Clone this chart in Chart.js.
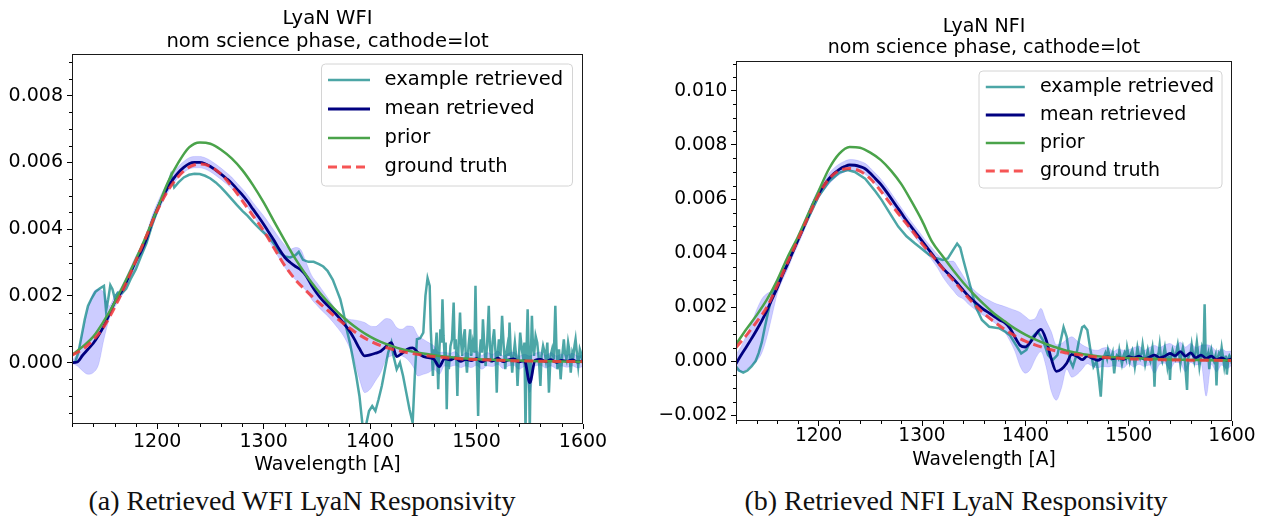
<!DOCTYPE html>
<html>
<head>
<meta charset="utf-8">
<script src="https://cdn.jsdelivr.net/npm/chart.js@4.4.1/dist/chart.umd.min.js"></script>
<style>
  html, body { margin: 0; padding: 0; background: #fff; }
  body { width: 1269px; height: 521px; position: relative; overflow: hidden; }
  .panel { position: absolute; top: 0; height: 480px; }
  #wfiBox { left: 0; width: 640px; }
  #nfiBox { left: 640px; width: 629px; }
  .caption { position: absolute; top: 487px; font-family: 'Liberation Serif', serif; font-size: 28px; line-height: 28px; white-space: nowrap; transform: translateX(-50%); color: #111; }
</style>
</head>
<body>
<div class="panel" id="wfiBox"><canvas id="wfiChart" width="640" height="480"></canvas></div>
<div class="panel" id="nfiBox"><canvas id="nfiChart" width="629" height="480"></canvas></div>
<div class="caption" style="left:302px">(a) Retrieved WFI LyaN Responsivity</div>
<div class="caption" style="left:956px">(b) Retrieved NFI LyaN Responsivity</div>
<script>
// wavelength grids [A]
const wave10 = [1120,1130,1140,1150,1160,1170,1180,1190,1200,1210,
  1220,1230,1240,1250,1260,1270,1280,1290,1300,1310,
  1320,1330,1340,1350,1360,1370,1380,1390,1400,1410,
  1420,1430,1440,1450,1460,1470,1480,1490,1500,1510,
  1520,1530,1540,1550,1560,1570,1580,1590,1600];
const wave5 = [1120,1125,1130,1135,1140,1145,1150,1155,1160,1165,
  1170,1175,1180,1185,1190,1195,1200,1205,1210,1215,
  1220,1225,1230,1235,1240,1245,1250,1255,1260,1265,
  1270,1275,1280,1285,1290,1295,1300,1305,1310,1315,
  1320,1325,1330,1335,1340,1345,1350,1355,1360,1365,
  1370,1375,1380,1385,1390,1395,1400,1405,1410,1415,
  1420,1425,1430,1435,1440,1445,1450,1455,1460,1465,
  1470,1475,1480,1485,1490,1495,1500,1505,1510,1515,
  1520,1525,1530,1535,1540,1545,1550,1555,1560,1565,
  1570,1575,1580,1585,1590,1595,1600];

// ---- WFI ----
const wfiPrior = [0.00023,0.00048,0.00078,0.00125,0.0018,0.00243,0.0031,0.00382,0.0046,0.0054,
  0.006,0.00645,0.0066,0.00656,0.00638,0.00612,0.00577,0.00532,0.0048,0.00422,
  0.00365,0.0031,0.00262,0.0022,0.00183,0.0015,0.00122,0.00098,0.00078,0.00062,
  0.0005,0.0004,0.00033,0.00027,0.00022,0.00018,0.00015,0.00012,0.0001,0.00009,
  0.00008,0.00007,0.00006,0.00005,0.00004,0.00004,0.00003,0.00003,0.00002];
const wfiTruth = [0.00022,0.0004,0.00068,0.00108,0.00165,0.00232,0.00305,0.0038,0.00455,0.00515,
  0.00558,0.00586,0.00595,0.00588,0.00565,0.00528,0.00485,0.0044,0.00395,0.00342,
  0.0029,0.00248,0.00215,0.00185,0.00157,0.0013,0.00105,0.00083,0.00065,0.00051,
  0.00041,0.00033,0.00027,0.00022,0.00018,0.00015,0.00012,0.0001,0.00009,0.00008,
  0.00007,0.00006,0.00005,0.00005,0.00004,0.00004,0.00003,0.00003,0.00003];
const wfiMean = [0,0.00002,0.00022,0.0004,0.00058,0.00082,0.0011,0.00145,0.0018,0.00205,
  0.00235,0.0027,0.00305,0.00335,0.00372,0.0042,0.0046,0.00495,0.00525,0.0055,
  0.0057,0.00585,0.00596,0.006,0.006,0.00596,0.00588,0.00577,0.00565,0.00552,
  0.00538,0.0052,0.00503,0.00483,0.0046,0.00438,0.00415,0.0039,0.00365,0.00338,
  0.00315,0.003,0.00288,0.00278,0.0026,0.00232,0.00208,0.00188,0.00172,0.00155,
  0.00138,0.00118,0.00098,0.00072,0.00042,0.0002,0.00023,0.00028,0.00034,0.00048,
  0.0006,0.00018,0.00028,0.0004,0.00044,0.0003,0.00018,0.00015,0.0001,-0.00012,
  0.00012,0.00008,0.00014,0.00004,0.0001,0.00006,0.00012,0.00002,0.0001,0.00005,
  0.00013,0.00003,0.00008,0.00011,0.00002,0.00006,-0.0006,0.00007,0.0001,0.00003,
  0.00009,0.00001,0.00007,0.00004,0.00008,0.00002,0.00005];
const wfiLow = [-0.00003,-0.0001,-0.00025,-0.00035,-0.0003,-0.00005,0.0007,0.0013,0.00165,0.0019,
  0.0022,0.00255,0.0029,0.0032,0.00357,0.00405,0.00445,0.0048,0.0051,0.00535,
  0.00555,0.0057,0.0058,0.00584,0.00584,0.0058,0.00572,0.00561,0.00549,0.00536,
  0.00522,0.00504,0.00487,0.00466,0.00442,0.00418,0.00392,0.00365,0.00338,0.0031,
  0.00285,0.00265,0.00248,0.00232,0.00215,0.0019,0.00172,0.00155,0.0014,0.00122,
  0.00102,0.0008,0.0005,0.0001,-0.0005,-0.0009,-0.0008,-0.00055,-0.0003,0.0001,
  0.0002,0.00025,0.0002,0.0001,-0.0001,-0.0004,-0.00035,-0.0003,-0.0002,-0.00035,
  -0.0001,-0.00012,-0.00008,-0.00015,-0.0001,-0.00015,-0.00008,-0.0002,-0.0001,-0.00012,
  -0.00005,-0.00018,-0.0001,-0.00008,-0.0002,-0.00012,-0.0009,-0.0001,-0.00008,-0.00016,
  -0.0001,-0.00018,-0.0001,-0.00014,-0.0001,-0.00016,-0.00012];
const wfiHigh = [0.00005,0.0003,0.0009,0.0016,0.0021,0.0022,0.0021,0.0017,0.002,0.0022,
  0.0025,0.00285,0.0032,0.0035,0.00388,0.00438,0.00478,0.00512,0.00542,0.00567,
  0.00588,0.00603,0.00614,0.00618,0.00618,0.00614,0.00606,0.00595,0.00583,0.0057,
  0.00556,0.00538,0.00521,0.00502,0.0048,0.0046,0.0044,0.00418,0.00395,0.00372,
  0.00352,0.0034,0.00345,0.00338,0.003,0.00262,0.0024,0.00218,0.00195,0.00172,
  0.00152,0.00138,0.0013,0.00128,0.00125,0.0012,0.0011,0.00108,0.0012,0.00132,
  0.00128,0.00105,0.001,0.0011,0.00108,0.0008,0.0007,0.0006,0.0005,0.0003,
  0.00032,0.00028,0.00033,0.0002,0.0003,0.00025,0.00035,0.00022,0.0003,0.00025,
  0.00035,0.0002,0.00028,0.00032,0.0002,0.00025,0.0002,0.00028,0.00032,0.00022,
  0.0003,0.0002,0.00026,0.00022,0.00028,0.0002,0.00022];
const wfiExampleWave = [1120,1123,1126,1129,1132,1135,1138,1142,1146,1150,
  1152,1154,1156,1158,1160,1163,1167,1171,1175,1180,
  1185,1190,1195,1200,1205,1210,1213,1216,1220,1225,
  1230,1235,1240,1245,1250,1255,1260,1265,1270,1275,
  1280,1285,1290,1295,1300,1305,1310,1315,1320,1325,
  1330,1333,1337,1342,1347,1352,1356,1360,1365,1369,
  1372,1375,1378,1381,1384,1387,1390,1393,1396,1399,
  1402,1405,1408,1411,1414,1417,1420,1422,1425,1428,
  1431,1434,1437,1440,1442,1444,1447,1450,1452,1454,
  1456,1457,1458,1459,1460,1461,1462.5,1464,1465,1466,
  1467,1468,1469,1470,1471,1472,1473,1474,1475.5,1477,
  1478.5,1479.5,1480.5,1482,1483,1484.5,1485.5,1486.5,1488,1489,
  1490,1491,1492.5,1494,1495,1496.5,1498,1499,1500,1501.5,
  1502.5,1504,1505,1506,1507.5,1508.5,1510,1511.5,1512.5,1514,
  1515,1516.5,1518,1519,1520,1521,1522.5,1524,1525.5,1527,
  1528,1529,1530,1531,1532,1533.5,1535,1536,1537.5,1538.5,
  1540,1541,1542.5,1543.5,1545,1546,1547,1548,1549,1550,
  1551,1552,1553,1554,1555.5,1557,1558.5,1560,1561,1562.5,
  1564,1565,1566.5,1568,1569.5,1571,1572.5,1574,1575,1576,
  1577.5,1579,1580.5,1582,1583,1584.5,1586,1587,1588.5,1590,
  1591,1592,1593,1594.5,1595.5,1597,1598,1599,1600];
const wfiExample = [0,0.00002,0.0003,0.0008,0.0013,0.0017,0.0019,0.00212,0.00222,0.0023,
  0.00155,0.0019,0.00232,0.0022,0.00195,0.0021,0.00208,0.00222,0.0025,0.0028,
  0.0032,0.00358,0.0041,0.00455,0.00495,0.00535,0.00563,0.00525,0.0054,0.00555,
  0.00563,0.00566,0.00565,0.0056,0.00552,0.0054,0.00525,0.00508,0.0049,0.00472,
  0.00455,0.0044,0.00422,0.00405,0.0039,0.00375,0.00355,0.0033,0.00318,0.00315,
  0.00322,0.00332,0.00308,0.00302,0.00302,0.00295,0.00288,0.00275,0.00248,0.00215,
  0.0019,0.0015,0.001,0.0006,0.0001,-0.0004,-0.001,-0.0019,-0.0019,-0.00145,
  -0.0013,-0.00145,-0.0011,-0.0007,-0.0002,0.0003,0.0006,0.0002,-0.0002,0,
  -0.0004,-0.0009,-0.0014,-0.0018,-0.0004,0.0007,0.00073,0.0009,0.002,0.00253,
  0.0023,0.001,0.0003,-0.0004,0.0004,0.0002,0.0009,-0.0008,0.0003,0.001,
  0.0006,0.0019,0.0008,0.0002,0.0006,-0.0014,0.0001,-0.0002,0.0005,0.0007,
  0.0018,0.0004,0.0007,-0.001,0.0004,0.0015,0.0006,0.0002,0.0008,0.001,
  0.0001,-0.0003,0.0005,0.001,0.0002,0.0006,0.0003,0.0023,0.0004,-0.0016,
  0.0001,0.0007,0.0003,0.0013,0.0004,-0.0001,0.0006,0.0017,0.0005,0,
  0.0006,0.001,0.0002,-0.0009,0.0003,0.0007,0.0002,0.0014,0.0005,-0.0002,
  0.0003,0.0005,0.0002,0.0012,0.0004,-0.0003,0.0003,0.0006,0.0001,-0.0007,
  0.0003,0.0009,0.0004,0.0002,0.0006,-0.0021,0.0004,0.0016,0.0003,-0.0021,
  0.0002,0.0014,0.0005,0.0002,0.0008,0.0006,0.0001,-0.0007,0.0002,0.0005,
  0.0003,0.0001,0.0006,-0.0009,0.0002,0.0004,0.0001,0.0017,0.0005,-0.0002,
  0.0004,-0.0005,0.0002,0.0007,0.0003,0.0001,0.0006,0.0004,-0.0003,0.0003,
  0.0002,0.0005,0.0007,0.0002,-0.0001,0.0004,0.0003,0.0001,0.0001];

// ---- NFI ----
const nfiPrior = [0.00062,0.00118,0.0017,0.00228,0.003,0.00385,0.0046,0.00545,0.0063,0.00712,
  0.00768,0.00793,0.0079,0.00772,0.00745,0.00705,0.00655,0.0059,0.0052,0.0044,
  0.00388,0.00337,0.0029,0.00248,0.0021,0.00175,0.00147,0.0012,0.00098,0.00079,
  0.00063,0.0005,0.00038,0.0003,0.00023,0.00018,0.00015,0.00013,0.00011,0.0001,
  0.00008,0.00007,0.00006,0.00005,0.00004,0.00004,0.00003,0.00003,0.00002];
const nfiTruth = [0.0005,0.00095,0.00145,0.002,0.0028,0.00365,0.0045,0.00535,0.00615,0.00675,
  0.00705,0.00713,0.00703,0.00675,0.0063,0.0058,0.00532,0.00485,0.00435,0.0039,
  0.00343,0.003,0.00255,0.00212,0.00176,0.00145,0.00117,0.00093,0.00074,0.00059,
  0.00047,0.00037,0.0003,0.00024,0.00019,0.00015,0.00012,0.0001,0.00008,0.00007,
  0.00006,0.00005,0.00004,0.00004,0.00003,0.00003,0.00003,0.00002,0.00002];
const nfiMean = [-0.0001,0.00022,0.00052,0.00083,0.00115,0.0015,0.00188,0.0023,0.00272,0.00318,
  0.0036,0.00405,0.00448,0.00492,0.00538,0.00585,0.0062,0.0065,0.00675,0.00695,
  0.0071,0.0072,0.00726,0.00725,0.0072,0.00712,0.00695,0.00675,0.00655,0.0063,
  0.00603,0.00575,0.00548,0.0052,0.00495,0.0047,0.00445,0.0042,0.00395,0.00368,
  0.00345,0.00325,0.00306,0.00285,0.00262,0.0024,0.00222,0.00205,0.0019,0.00178,
  0.00165,0.00152,0.00142,0.00122,0.00088,0.00058,0.00052,0.0007,0.00098,0.00117,
  0.0008,0.0001,-0.00038,-0.0003,-0.00008,0.00025,0.00018,0.00005,0.00018,0.0001,
  0.00003,0.00012,0.00015,0.00009,0.00014,0.00006,0.00016,0.00012,0.00018,0.00008,
  0.00014,0.00022,0.00012,0.00018,0.00028,0.0002,0.00035,0.00018,0.0003,0.00012,
  0.00022,0.0001,0.00018,0.00005,0.00012,0.00003,0.00008];
const nfiLow = [-0.00035,-0.0004,-0.0003,-0.00015,0,0.0003,0.0009,0.0017,0.0025,0.003,
  0.0034,0.00388,0.0043,0.00474,0.0052,0.00564,0.00602,0.00632,0.00655,0.00675,
  0.0069,0.007,0.00706,0.00705,0.007,0.00692,0.00675,0.00655,0.00635,0.0061,
  0.00583,0.00555,0.00528,0.005,0.00475,0.0045,0.00425,0.00398,0.00372,0.00345,
  0.00312,0.00285,0.00262,0.0024,0.0023,0.0021,0.00195,0.0018,0.00168,0.00155,
  0.00142,0.00128,0.00108,0.00075,0.00035,-0.0002,-0.00045,-0.0003,0.0001,0.00035,
  -0.0002,-0.0011,-0.00145,-0.001,-0.0003,-0.0006,-0.0005,-0.0003,-0.0001,-0.0002,
  -0.00025,-0.0002,-0.00022,-0.00018,-0.0002,-0.00025,-0.0001,-0.00022,-0.00012,-0.0002,
  -0.00015,-0.00045,-0.00012,-0.00008,-0.0003,-0.00005,-0.00008,-0.0004,-0.00005,-0.00015,
  -0.0001,-0.0013,-0.00012,-0.0004,-0.00015,-0.00028,-0.00015];
const nfiHigh = [0.00025,0.00055,0.00095,0.0014,0.0019,0.0023,0.0025,0.0026,0.0029,0.0034,
  0.0038,0.00423,0.00466,0.0051,0.00556,0.006,0.00638,0.00668,0.00695,0.00715,
  0.0073,0.0074,0.00746,0.00745,0.0074,0.00732,0.00715,0.00695,0.00675,0.0065,
  0.00623,0.00595,0.00568,0.0054,0.00515,0.0049,0.00465,0.0044,0.00418,0.00395,
  0.00378,0.0037,0.0037,0.00345,0.00315,0.00285,0.00265,0.00248,0.00235,0.00225,
  0.00215,0.00208,0.00202,0.00195,0.00188,0.0018,0.00165,0.00152,0.0016,0.00195,
  0.0015,0.0011,0.0006,0.00065,0.0008,0.0009,0.00075,0.0006,0.0005,0.00042,
  0.0004,0.00048,0.0005,0.00035,0.00045,0.0004,0.00042,0.0005,0.00055,0.0004,
  0.0005,0.00058,0.0005,0.0006,0.00065,0.00055,0.0007,0.00052,0.00065,0.0005,
  0.00058,0.0006,0.00055,0.00038,0.00045,0.00035,0.00038];
const nfiExampleWave = [1120,1123,1127,1131,1135,1139,1142,1145,1148,1151,
  1154,1158,1163,1170,1180,1190,1200,1210,1220,1228,
  1235,1245,1255,1261,1270,1277,1285,1293,1300,1307,
  1313,1320,1325,1330,1334,1337,1340,1346,1352,1358,
  1365,1375,1380,1385,1391,1396,1401,1407,1412,1417,
  1422,1426.5,1431,1435,1437,1440,1443,1446,1449,1452,
  1455,1457,1460,1463,1466,1469,1471,1473,
  1475,1476.5,1477.5,1479,1480,1481.5,1483,1484.5,1486,1487.5,
  1488.5,1490,1491,1492,1493.5,1495,1496,1497.5,1498.5,1500,
  1501,1502.5,1503.5,1505,1506,1507.5,1508.5,1510,1511,1512.5,
  1513.5,1515,1516,1517.5,1518.5,1520,1521,1522,1523,1524,
  1525,1526,1527.5,1529,1530,1531,1532.5,1534,1535,1536.5,
  1537.5,1539,1540,1541,1542.5,1544,1545,1546.5,1547.5,1549,
  1550,1551,1552.5,1554,1555,1556.5,1557.5,1558.5,1560,1561,
  1562.5,1563.5,1565,1566,1567.5,1568.5,1570,1571,1572.5,1573.5,
  1574.5,1575.5,1577,1578,1579,1580,1581.5,1582.5,1584,1585,
  1586,1587.5,1589,1590,1591.5,1592.5,1594,1595,1596.5,1597.5,
  1599,1600];
const nfiExample = [-0.0002,-0.00035,-0.00043,-0.00035,-0.0002,0,0.0003,0.0007,0.00127,0.0018,
  0.0023,0.00275,0.0031,0.0036,0.00448,0.0053,0.0061,0.00665,0.00698,0.00707,
  0.007,0.00675,0.00628,0.00596,0.0054,0.00498,0.00462,0.00436,0.00415,0.00393,
  0.00382,0.00374,0.0038,0.00411,0.00435,0.0042,0.00374,0.00288,0.00201,0.00152,
  0.00127,0.00121,0.0011,0.00096,0.00059,0.00028,0.00041,0.0009,0.00109,0.00078,
  0.00022,0.00004,0.00022,0.0009,0.00125,0.0009,0.00004,-0.00021,0.00016,0.00078,
  0.00125,0.0013,0.00115,0.00041,-0.00021,0,-0.0006,-0.00132,
  0.00004,0.0002,0.0003,0.0001,0.00041,0.0002,0.0001,0.0003,-0.00046,0.0001,
  0.0002,0.0001,0.0004,0.0002,-0.0001,0.0002,0.0003,0.0001,0.0005,0.0002,
  0,0.0003,0.0004,0.0001,-0.0002,0.0002,0.0005,0.0002,0.0001,0.0003,
  0.0006,0.0002,-0.0001,0.0002,0.0004,0.0001,0,0.0003,0.0005,0.0001,
  -0.00095,0.0001,0.0002,0.0003,0.0006,0.0002,0,0.0003,0.0005,0.0001,
  -0.0002,0.0002,-0.0007,0.0001,0.0004,0.0002,0.0001,0.0004,0.0006,0.0002,
  -0.0001,0.0002,0.0005,0.0002,-0.0003,-0.00107,0.0001,0.0002,0.0003,0.0006,
  0.0002,0,0.0004,0.0007,0.0002,-0.0002,0.0002,0.0005,0.0003,0.0021,
  0.0002,0.0001,0.0003,-0.0003,0.0002,0.0004,0.0001,0,0.0002,-0.0009,
  0.0001,0.0003,0.0002,0.0005,0.0001,-0.0002,0.0002,-0.0005,0.0001,0.0002,
  0.0001,-0.0001];

// axis ticks and labels
const xTicks = [1200, 1300, 1400, 1500, 1600];
const wfiYTicks = [0, 0.002, 0.004, 0.006, 0.008];
const nfiYTicks = [-0.002, 0, 0.002, 0.004, 0.006, 0.008, 0.010];
const legendLabels = ['example retrieved', 'mean retrieved', 'prior', 'ground truth'];

const pairs = (xs, ys) => xs.map((x, i) => ({ x: x, y: ys[i] }));

const fmtY = (v) => {
    if (Math.abs(v) < 1e-12) return '0.000';
    return (v < 0 ? '\u2212' : '') + Math.abs(v).toFixed(3);
};

// two-line title centred over the axes (not over the canvas)
const mplTitle = {
    id: 'mplTitle',
    afterDraw(chart, args, o) {
        const { ctx, chartArea: a } = chart;
        ctx.save();
        ctx.font = o.fontSize + 'px "DejaVu Sans"';
        ctx.fillStyle = '#000';
        ctx.textAlign = 'center';
        ctx.textBaseline = 'middle';
        o.lines.forEach((t, i) => ctx.fillText(t, (a.left + a.right) / 2, o.rows[i]));
        ctx.restore();
    }
};

// frame + minor ticks, matplotlib style
const mplAxes = {
    id: 'mplAxes',
    afterDatasetsDraw(chart, args, o) {
        const { ctx, chartArea: a, scales } = chart;
        const x = scales.x, y = scales.y;
        ctx.save();
        ctx.strokeStyle = '#000';
        ctx.lineWidth = 1;
        ctx.beginPath();
        for (let k = Math.ceil(x.min / o.xMinor); k * o.xMinor <= x.max; k++) {
            if (k % o.xEvery === 0) continue;
            const px = Math.round(x.getPixelForValue(k * o.xMinor)) + 0.5;
            ctx.moveTo(px, a.bottom);
            ctx.lineTo(px, a.bottom + o.minorLen);
        }
        for (let k = Math.ceil(y.min / o.yMinor - 1e-9); k * o.yMinor <= y.max + 1e-12; k++) {
            if (k % o.yEvery === 0) continue;
            const py = Math.round(y.getPixelForValue(k * o.yMinor)) + 0.5;
            ctx.moveTo(a.left - o.minorLen, py);
            ctx.lineTo(a.left, py);
        }
        ctx.stroke();
        ctx.strokeStyle = '#1a1a1a';
        ctx.strokeRect(Math.round(a.left) + 0.5, Math.round(a.top) + 0.5,
            Math.round(a.right - a.left) - 1, Math.round(a.bottom - a.top) - 1);
        ctx.restore();
    }
};

// legend box inside the axes, top right
const mplLegend = {
    id: 'mplLegend',
    afterDraw(chart, args, o) {
        const { ctx, chartArea: a } = chart;
        const x0 = a.right - o.marginRight - o.width;
        const y0 = a.top + o.marginTop;
        ctx.save();
        ctx.beginPath();
        ctx.roundRect(x0, y0, o.width, o.height, 4);
        ctx.fillStyle = 'rgba(255,255,255,0.85)';
        ctx.fill();
        ctx.strokeStyle = '#d4d4d4';
        ctx.lineWidth = 1;
        ctx.stroke();
        ctx.font = o.fontSize + 'px "DejaVu Sans"';
        ctx.textBaseline = 'middle';
        ctx.textAlign = 'left';
        legendLabels.forEach((label, i) => {
            const ds = chart.data.datasets.find(d => d.label === label);
            const yy = y0 + o.firstRow + i * o.rowGap;
            ctx.beginPath();
            ctx.setLineDash(ds.borderDash || []);
            ctx.strokeStyle = ds.borderColor;
            ctx.lineWidth = ds.borderWidth;
            ctx.moveTo(x0 + o.lineStart, yy);
            ctx.lineTo(x0 + o.lineStart + o.lineLen, yy);
            ctx.stroke();
            ctx.setLineDash([]);
            ctx.fillStyle = '#000';
            ctx.fillText(label, x0 + o.textStart, yy);
        });
        ctx.restore();
    }
};

const buildChart = (id, p) => {
    const font = { family: 'DejaVu Sans', size: p.fontSize };
    const line = { pointRadius: 0, fill: false, clip: 0, cubicInterpolationMode: 'monotone' };
    return new Chart(document.getElementById(id), {
        type: 'line',
        data: {
            datasets: [
                { ...line, label: 'ground truth', data: pairs(wave10, p.truth), borderColor: 'rgba(245,55,55,0.85)', borderWidth: 3, borderDash: [9, 5], order: 0 },
                { ...line, label: 'prior', data: pairs(wave10, p.prior), borderColor: '#4aa34a', borderWidth: 2.5, order: 1 },
                { ...line, label: 'mean retrieved', data: pairs(wave5, p.mean), borderColor: '#000080', borderWidth: 2.8, order: 2 },
                { ...line, label: 'example retrieved', data: pairs(p.exWave, p.example), borderColor: 'rgba(0,128,128,0.7)', borderWidth: 2.5, cubicInterpolationMode: 'default', tension: 0, order: 3 },
                { ...line, label: 'band low', data: pairs(wave5, p.low), borderColor: 'rgba(0,0,255,0.12)', borderWidth: 1, order: 5 },
                { ...line, label: 'band high', data: pairs(wave5, p.high), borderColor: 'rgba(0,0,255,0.12)', borderWidth: 1, backgroundColor: 'rgba(0,0,255,0.2)', fill: 4, order: 4 }
            ]
        },
        options: {
            responsive: false,
            animation: false,
            events: [],
            layout: { padding: { left: 0, right: p.padRight, top: p.padTop, bottom: 0 } },
            plugins: {
                legend: { display: false },
                tooltip: { enabled: false },
                title: { display: false },
                mplTitle: { lines: p.title, rows: p.titleRows, fontSize: p.titleSize },
                mplAxes: { xMinor: 20, xEvery: 5, yMinor: 0.0005, yEvery: 4, minorLen: 3 },
                mplLegend: p.legend
            },
            scales: {
                x: {
                    type: 'linear',
                    min: 1120,
                    max: 1600,
                    afterBuildTicks: (s) => { s.ticks = xTicks.map(v => ({ value: v })); },
                    afterFit: (s) => { s.height = p.xHeight; },
                    grid: { drawOnChartArea: false, drawTicks: true, tickLength: 5, color: '#000' },
                    border: { display: false },
                    ticks: { color: '#000', font: font, padding: p.xTickPad, maxRotation: 0, autoSkip: false, callback: (v) => String(v) },
                    title: { display: true, text: 'Wavelength [A]', color: '#000', font: font, padding: { top: 0, bottom: p.xTitlePad } }
                },
                y: {
                    type: 'linear',
                    min: p.yMin,
                    max: p.yMax,
                    afterBuildTicks: (s) => { s.ticks = p.yTicks.map(v => ({ value: v })); },
                    afterFit: (s) => { s.width = p.yWidth; },
                    grid: { drawOnChartArea: false, drawTicks: true, tickLength: 5, color: '#000' },
                    border: { display: false },
                    ticks: { color: '#000', font: font, padding: p.yTickPad, callback: (v) => fmtY(v) }
                }
            }
        },
        plugins: [mplTitle, mplAxes, mplLegend]
    });
};

buildChart('wfiChart', {
    title: ['LyaN WFI', 'nom science phase, cathode=lot'],
    prior: wfiPrior, truth: wfiTruth, mean: wfiMean, low: wfiLow, high: wfiHigh,
    exWave: wfiExampleWave, example: wfiExample,
    yMin: -0.00184, yMax: 0.00925, yTicks: wfiYTicks,
    fontSize: 19, titleSize: 19.6, titleRows: [19, 42], padTop: 54,
    padRight: 57, yWidth: 72, xHeight: 56, xTickPad: 2, xTitlePad: 3.6, yTickPad: 4,
    legend: { width: 251, height: 122, marginRight: 10.5, marginTop: 10, firstRow: 16, rowGap: 29, lineStart: 6.5, lineLen: 42, textStart: 63, fontSize: 19.5 }
});

buildChart('nfiChart', {
    title: ['LyaN NFI', 'nom science phase, cathode=lot'],
    prior: nfiPrior, truth: nfiTruth, mean: nfiMean, low: nfiLow, high: nfiHigh,
    exWave: nfiExampleWave, example: nfiExample,
    yMin: -0.00222, yMax: 0.01111, yTicks: nfiYTicks,
    fontSize: 18.6, titleSize: 19, titleRows: [27.3, 48.3], padTop: 61,
    padRight: 37, yWidth: 96, xHeight: 59, xTickPad: -1, xTitlePad: 9, yTickPad: 3.6,
    legend: { width: 243, height: 117, marginRight: 10, marginTop: 10, firstRow: 16, rowGap: 28, lineStart: 6.8, lineLen: 39, textStart: 61, fontSize: 19 }
});
</script>
</body>
</html>
